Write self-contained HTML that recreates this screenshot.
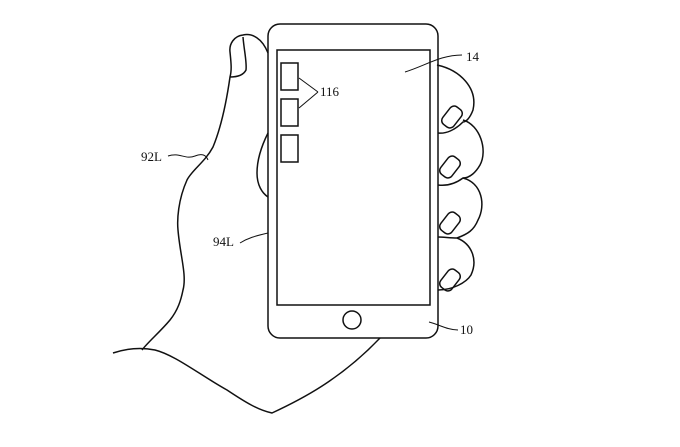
<!DOCTYPE html>
<html><head><meta charset="utf-8"><style>html,body{margin:0;padding:0;background:#fff}svg{display:block}</style></head>
<body>
<svg width="680" height="447" viewBox="0 0 680 447" xmlns="http://www.w3.org/2000/svg" fill="none" stroke="#111" stroke-width="1.5" font-family="Liberation Serif, serif" font-size="13">
<!-- phone -->
<rect x="268" y="24" width="170" height="314" rx="12"/>
<rect x="277" y="50" width="153" height="255"/>
<circle cx="352" cy="320" r="9"/>
<rect x="281" y="63" width="17" height="27"/>
<rect x="281" y="99" width="17" height="27"/>
<rect x="281" y="135" width="17" height="27"/>
<!-- thumb and hand -->
<path d="M268,53 C262,38 252,33 243,35 C234,36 229,44 230,52 C231,62 232,70 230,77 C226,105 220,130 213,147 C205,162 192,170 187,180 C178,200 177,220 178,230 C180,255 187,275 183,290 C181,300 178,310 170,320 C160,332 148,342 142,350"/>
<path d="M243,37 C244,50 247,62 246,70 C243,76 236,77 230,77"/>
<path d="M268,133 C262,145 257,158 257,173 C257,185 262,193 268,197"/>
<path d="M113,353 C125,349 140,347 155,350 C175,355 200,375 227,390 C245,402 258,410 272,413 C300,400 340,380 380,338"/>
<!-- fingers -->
<path d="M437,65 C460,70 478,88 473,110 C470,118 466,122 463,122 C455,130 446,134 438,133"/>
<path d="M463,120 C480,125 488,150 480,165 C476,172 470,178 463,178 C455,184 446,186 438,185"/>
<path d="M463,178 C482,183 486,205 478,220 C474,230 468,234 457,238 C450,238 444,237 438,237"/>
<path d="M457,238 C472,244 478,260 471,275 C466,283 452,290 438,290"/>
<rect x="441" y="110" width="22" height="14" rx="5" transform="rotate(-52 452 117)"/>
<rect x="439" y="160" width="22" height="14" rx="5" transform="rotate(-52 450 167)"/>
<rect x="439" y="216" width="22" height="14" rx="5" transform="rotate(-52 450 223)"/>
<rect x="439" y="273" width="22" height="14" rx="5" transform="rotate(-52 450 280)"/>
<!-- leaders -->
<path stroke-width="1" d="M405,72 C425,66 440,55 462,55"/>
<path stroke-width="1" d="M299,78 L318,92 M299,108 L318,92"/>
<path stroke-width="1" d="M168,156 C180,152 185,160 195,156 C202,153 206,155 208,160"/>
<path stroke-width="1" d="M240,243 C248,238 255,236 268,233"/>
<path stroke-width="1" d="M429,322 C440,325 448,330 458,330"/>
<g fill="#111" stroke="none">
<text x="466" y="61">14</text>
<text x="320" y="96">116</text>
<text x="141" y="161">92L</text>
<text x="213" y="246">94L</text>
<text x="460" y="334">10</text>
</g>
</svg>
</body></html>
